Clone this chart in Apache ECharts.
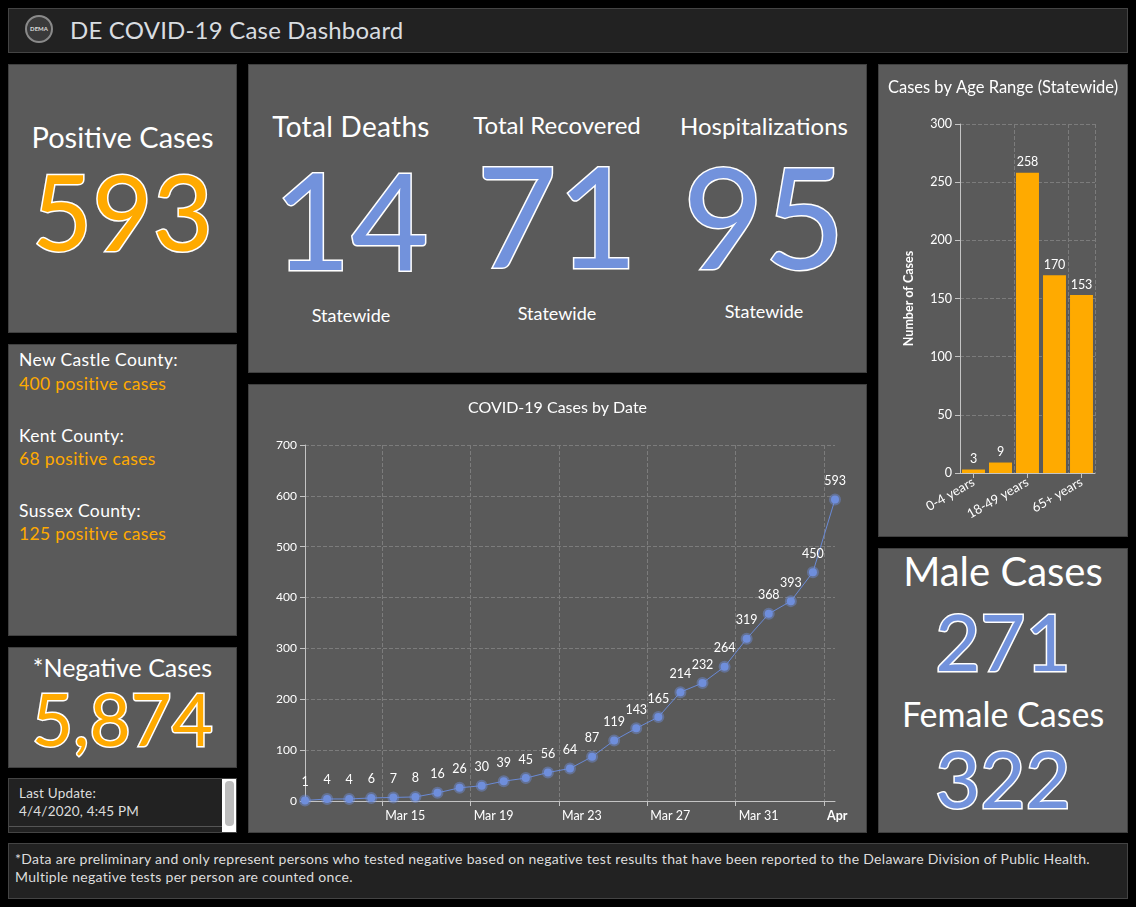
<!DOCTYPE html>
<html>
<head>
<meta charset="utf-8">
<script src="https://cdn.jsdelivr.net/npm/echarts@6/dist/echarts.min.js"></script>
<style>
  html,body{margin:0;padding:0;}
  body{background:#000;width:1136px;height:907px;overflow:hidden;font-family:Lato,"Noto Sans",sans-serif;color:#fff;position:relative;}
  .panel{position:absolute;background:#5a5a5a;border:1px solid #404040;box-sizing:border-box;}
  .dark{position:absolute;background:#222;border:1px solid #444;box-sizing:border-box;}
  .t{position:absolute;line-height:1;white-space:nowrap;}
  .c{left:0;right:0;text-align:center;}
  .num{-webkit-text-stroke:3px #fff;paint-order:stroke fill;}
  .org{color:#ffaa00;}
  .blu{color:#7292dc;}
  .cty{font-size:17.5px;left:10px;letter-spacing:0.35px;}
  .small{font-size:14px;color:#ddd;letter-spacing:0.3px;}
</style>
</head>
<body>
<!-- header -->
<div class="dark" style="left:8px;top:8px;width:1120px;height:45px;">
  <div style="position:absolute;left:16px;top:6px;width:28px;height:28px;border-radius:50%;background:#3a3a3a;border:2px solid #8a8a8a;box-sizing:border-box;">
    <div style="position:absolute;left:0;right:0;top:9px;text-align:center;font-size:6px;color:#ddd;font-weight:bold;line-height:1;">DEMA</div>
  </div>
  <div class="t" style="left:61px;top:9px;font-size:24px;color:#d9dde0;letter-spacing:0.2px;">DE COVID-19 Case Dashboard</div>
</div>

<!-- positive cases -->
<div class="panel" style="left:8px;top:64px;width:229px;height:269px;">
  <div class="t c" style="top:57px;font-size:29px;">Positive Cases</div>
  <div class="t c num org" style="top:94px;font-size:104px;">593</div>
</div>

<!-- counties -->
<div class="panel" style="left:8px;top:344px;width:229px;height:292px;">
  <div class="t cty" style="top:6px;">New Castle County:</div>
  <div class="t cty org" style="top:30px;">400 positive cases</div>
  <div class="t cty" style="top:82px;">Kent County:</div>
  <div class="t cty org" style="top:105px;">68 positive cases</div>
  <div class="t cty" style="top:157px;">Sussex County:</div>
  <div class="t cty org" style="top:180px;">125 positive cases</div>
</div>

<!-- negative cases -->
<div class="panel" style="left:8px;top:647px;width:229px;height:121px;">
  <div class="t c" style="top:7px;font-size:25px;">*Negative Cases</div>
  <div class="t c num org" style="top:35px;font-size:71px;">5,874</div>
</div>

<!-- last update -->
<div class="dark" style="left:8px;top:778px;width:229px;height:55px;">
  <div class="t" style="left:10px;top:8px;font-size:13.5px;color:#ddd;letter-spacing:0.2px;">Last Update:</div>
  <div class="t" style="left:10px;top:26px;font-size:13.5px;color:#ddd;letter-spacing:0.2px;">4/4/2020, 4:45 PM</div>
  <div style="position:absolute;left:0;top:47px;width:213px;height:1px;background:#555;"></div>
  <div style="position:absolute;left:213px;top:0;width:14px;height:53px;background:#fff;">
    <div style="position:absolute;left:3px;top:2px;width:9px;height:45px;border-radius:4px;background:#bdbdbd;"></div>
  </div>
</div>

<!-- big numbers -->
<div class="panel" style="left:248px;top:64px;width:619px;height:309px;">
  <div class="t" style="left:2px;width:200px;text-align:center;top:47px;font-size:28px;letter-spacing:0.3px;">Total Deaths</div>
  <div class="t num blu" style="left:2px;width:200px;text-align:center;top:87px;font-size:134px;">14</div>
  <div class="t" style="left:2px;width:200px;text-align:center;top:241px;font-size:18px;">Statewide</div>

  <div class="t" style="left:208px;width:200px;text-align:center;top:48px;font-size:24px;">Total Recovered</div>
  <div class="t num blu" style="left:208px;width:200px;text-align:center;top:80px;font-size:139px;">71</div>
  <div class="t" style="left:208px;width:200px;text-align:center;top:239px;font-size:18px;">Statewide</div>

  <div class="t" style="left:415px;width:200px;text-align:center;top:49px;font-size:24px;">Hospitalizations</div>
  <div class="t num blu" style="left:415px;width:200px;text-align:center;top:80px;font-size:140px;">95</div>
  <div class="t" style="left:415px;width:200px;text-align:center;top:237px;font-size:18px;">Statewide</div>
</div>

<!-- line chart -->
<div class="panel" style="left:248px;top:384px;width:619px;height:449px;">
  <div id="line" style="position:absolute;left:0;top:0;width:617px;height:447px;"></div>
</div>

<!-- age chart -->
<div class="panel" style="left:878px;top:64px;width:250px;height:473px;">
  <div id="age" style="position:absolute;left:0;top:0;width:248px;height:471px;"></div>
</div>

<!-- gender -->
<div class="panel" style="left:878px;top:548px;width:250px;height:285px;">
  <div class="t c" style="top:2px;font-size:40px;">Male Cases</div>
  <div class="t c num blu" style="top:53px;font-size:78px;">271</div>
  <div class="t c" style="top:148px;font-size:34px;">Female Cases</div>
  <div class="t c num blu" style="top:190px;font-size:78px;">322</div>
</div>

<!-- footer -->
<div class="dark" style="left:8px;top:843px;width:1120px;height:56px;">
  <div class="t small" style="left:6px;top:8px;">*Data are preliminary and only represent persons who tested negative based on negative test results that have been reported to the Delaware Division of Public Health.</div>
  <div class="t small" style="left:6px;top:26px;">Multiple negative tests per person are counted once.</div>
</div>

<script>
// ---- data ----
const dates = ['Mar 11','Mar 12','Mar 13','Mar 14','Mar 15','Mar 16','Mar 17','Mar 18','Mar 19','Mar 20',
  'Mar 21','Mar 22','Mar 23','Mar 24','Mar 25','Mar 26','Mar 27','Mar 28','Mar 29','Mar 30','Mar 31',
  'Apr 1','Apr 2','Apr 3','Apr 4'];
const cases = [1,4,4,6,7,8,16,26,30,39,45,56,64,87,119,143,165,214,232,264,319,368,393,450,593];
const tickDates = ['Mar 15','Mar 19','Mar 23','Mar 27','Mar 31','Apr 4'];
const tickLabels = ['Mar 15','Mar 19','Mar 23','Mar 27','Mar 31','Apr'];

const ageGroups = ['0-4 years','5-17 years','18-49 years','50-64 years','65+ years'];
const ageCases = [3,9,258,170,153];

const FONT = 'Lato, "Noto Sans", sans-serif';
const AXIS = '#c4c4c4';
const GRID = '#7c7c7c';

// ---- line chart ----
const tickPos = tickDates.map(d => dates.indexOf(d) - 0.5);
const lineChart = echarts.init(document.getElementById('line'));
lineChart.setOption({
  animation:false,
  textStyle:{fontFamily:FONT},
  title:{text:'COVID-19 Cases by Date',left:'center',top:10,
    textStyle:{color:'#fff',fontSize:16,fontWeight:'normal',fontFamily:FONT}},
  grid:{left:56,right:31,top:60,bottom:31},
  xAxis:{type:'value',min:0,max:dates.length-1,
    axisLine:{show:true,lineStyle:{color:AXIS}},
    axisTick:{show:true,customValues:tickPos,length:5,lineStyle:{color:AXIS}},
    axisLabel:{customValues:tickPos,align:'left',padding:[0,0,0,3],color:'#fff',fontSize:12.5,margin:8,
      formatter:function(v){const i=tickPos.findIndex(p=>Math.abs(p-v)<1e-6);const s=i>=0?tickLabels[i]:'';
        return i===tickLabels.length-1?'{b|'+s+'}':s;},
      rich:{b:{fontWeight:'bold',color:'#fff',fontSize:12.5,fontFamily:FONT}}},
    splitLine:{show:true,lineStyle:{type:'dashed',color:GRID}}},
  yAxis:{type:'value',min:0,max:700,interval:100,
    axisLine:{show:true,lineStyle:{color:AXIS}},
    axisTick:{show:true,length:5,lineStyle:{color:AXIS}},
    axisLabel:{color:'#fff',fontSize:12,margin:8},
    splitLine:{show:true,lineStyle:{type:'dashed',color:GRID}}},
  series:[{type:'line',data:cases.map((v,i)=>[i,v]),
    lineStyle:{color:'#6a8ad6',width:1},
    symbol:'circle',symbolSize:8,
    itemStyle:{color:'#6f8fdc',borderColor:'rgba(111,143,220,0.45)',borderWidth:4},
    label:{show:true,position:'top',distance:6,color:'#fff',fontSize:12.5,
      formatter:p=>p.value[1]}}]
});

// ---- age chart ----
const ageChart = echarts.init(document.getElementById('age'));
ageChart.setOption({
  animation:false,
  textStyle:{fontFamily:FONT},
  title:{text:'Cases by Age Range (Statewide)',left:'center',top:9,
    textStyle:{color:'#fff',fontSize:16.5,fontWeight:'normal',fontFamily:FONT}},
  grid:{left:81,right:32,top:59,bottom:63},
  xAxis:{type:'category',data:ageGroups,
    axisLine:{show:true,lineStyle:{color:AXIS}},
    axisTick:{show:true,alignWithLabel:true,interval:1,length:5,lineStyle:{color:AXIS}},
    axisLabel:{interval:1,rotate:30,color:'#fff',fontSize:13,margin:8},
    splitLine:{show:true,interval:1,lineStyle:{type:'dashed',color:GRID}}},
  yAxis:{type:'value',min:0,max:300,interval:50,
    name:'Number of Cases',nameLocation:'middle',nameGap:45,
    nameTextStyle:{color:'#fff',fontSize:12.5,fontWeight:'bold',fontFamily:FONT},
    axisLine:{show:true,lineStyle:{color:AXIS}},
    axisTick:{show:true,length:5,lineStyle:{color:AXIS}},
    axisLabel:{color:'#fff',fontSize:12.5,margin:8},
    splitLine:{show:true,lineStyle:{type:'dashed',color:GRID}}},
  series:[{type:'bar',data:ageCases,barWidth:'85%',
    itemStyle:{color:'#ffaa00'},
    label:{show:true,position:'top',distance:4,color:'#fff',fontSize:12.5}}]
});
</script>
</body>
</html>
